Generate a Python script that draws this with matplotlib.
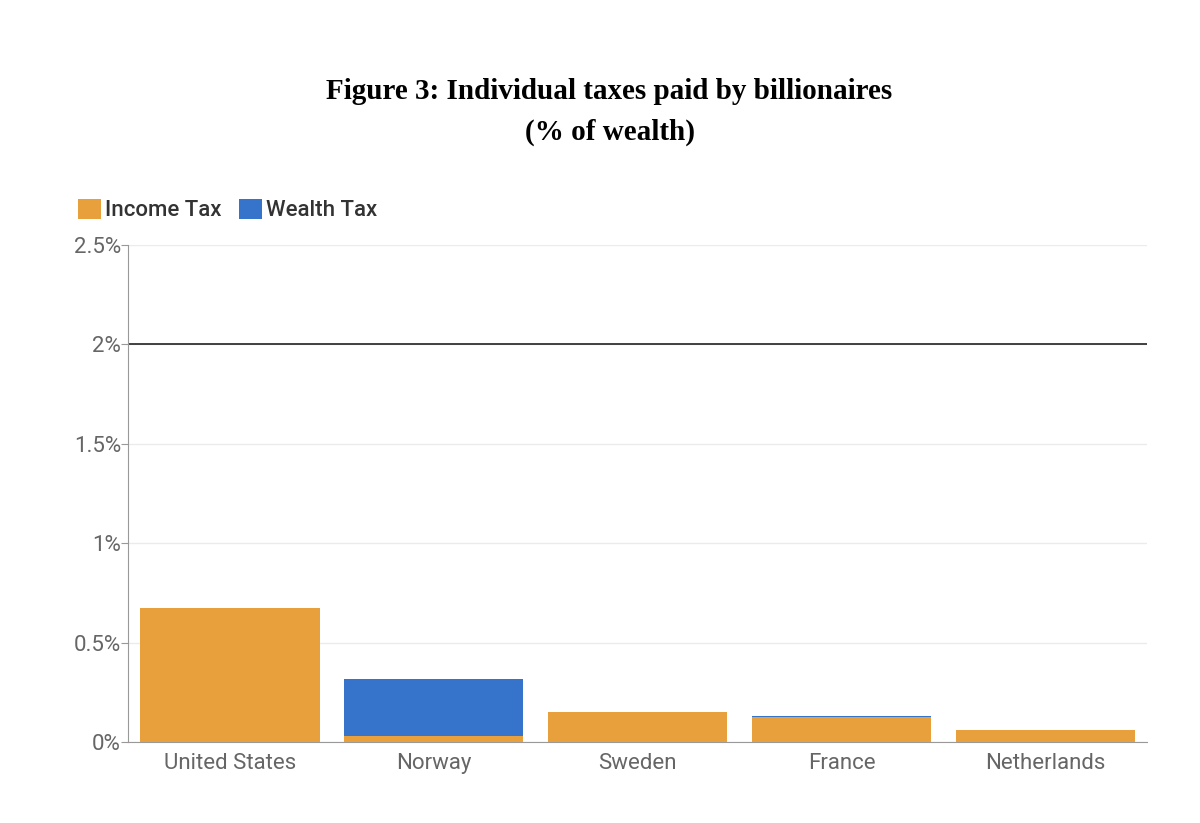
import matplotlib
matplotlib.use("Agg")
import matplotlib.pyplot as plt
from matplotlib.patches import Patch

countries = ["United States", "Norway", "Sweden", "France", "Netherlands"]
income_tax = [0.675, 0.032, 0.15, 0.128, 0.061]
wealth_tax = [0.0, 0.285, 0.0, 0.004, 0.0]
y_ticks = [0, 0.5, 1, 1.5, 2, 2.5]
y_tick_labels = ["0%", "0.5%", "1%", "1.5%", "2%", "2.5%"]

orange = "#e8a03c"
blue = "#3674cc"
gray_text = "#666666"

plt.rcParams['font.family'] = ['Roboto', 'DejaVu Sans']

fig = plt.figure(figsize=(12, 8.23), dpi=100)
ax = fig.add_axes([0.1067, 0.0984, 0.8493, 0.6039])

x = range(len(countries))
ax.bar(x, income_tax, width=0.88, color=orange, zorder=3)
ax.bar(x, wealth_tax, width=0.88, bottom=income_tax, color=blue, zorder=3)

ax.set_xlim(-0.5, 4.5)
ax.set_ylim(0, 2.5)
ax.set_yticks(y_ticks)
ax.set_yticklabels(y_tick_labels)
ax.set_xticks(list(x))
ax.set_xticklabels(countries)

ax.grid(axis='y', color='#ebebeb', linewidth=1, zorder=0)
ax.axhline(2, color='#333333', linewidth=1.3, zorder=2)

for side in ['top', 'right']:
    ax.spines[side].set_visible(False)
ax.spines['left'].set_color('#999999')
ax.spines['bottom'].set_color('#999999')
ax.tick_params(axis='y', colors='#999999', labelcolor=gray_text, labelsize=16, length=5, pad=0)
ax.tick_params(axis='x', length=0, labelcolor=gray_text, labelsize=16, pad=8)

handles = [Patch(facecolor=orange, label="Income Tax"), Patch(facecolor=blue, label="Wealth Tax")]
fig.legend(handles=handles, loc='upper left', bbox_to_anchor=(0.048, 0.783), ncol=2,
           frameon=False, handlelength=1.05, handleheight=1.05,
           handletextpad=0.2, columnspacing=0.75, labelcolor='#333333',
           prop={'size': 16, 'weight': 'medium'})

fig.text(0.508, 0.864, "Figure 3: Individual taxes paid by billionaires\n(% of wealth)",
         ha='center', va='center', fontsize=21, fontweight='bold',
         family=['Liberation Serif', 'DejaVu Serif'], linespacing=1.65)

fig.savefig("out.png", dpi=100, facecolor='white')
